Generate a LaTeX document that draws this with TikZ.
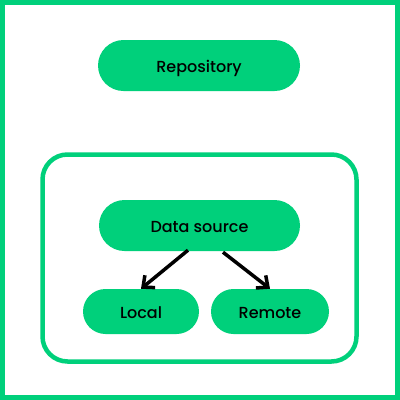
\documentclass[tikz,border=0pt]{standalone}
\usepackage{fontspec}
\setmainfont{Poppins Medium}
\usetikzlibrary{arrows.meta,calc}
\definecolor{gr}{HTML}{00D07B}
\tikzset{
  pill/.style={fill=gr, draw=none, rounded corners=#1, inner sep=0pt, font=\fontsize{16}{18}\selectfont, text=black, text height=16pt, text depth=3pt},
  conn/.style={line width=3.5pt, draw=black, -{Straight Barb[length=9pt,width=16pt,line width=3.5pt]}}
}
\begin{document}
\begin{tikzpicture}[x=1pt,y=-1pt]
\useasboundingbox (0,0) rectangle (400,400);
\draw[gr, line width=5pt] (2.5,2.5) rectangle (397.5,397.5);
\draw[gr, line width=4.5pt, rounded corners=25pt] (42.5,154.5) rectangle (356.5,361.5);
\node[pill=25.5pt, minimum width=202pt, minimum height=51pt] (repo) at (199,65.5) {Repository};
\node[pill=25.5pt, minimum width=201pt, minimum height=51pt] (ds) at (199.5,225.5) {Data source};
\node[pill=22.5pt, minimum width=116pt, minimum height=45pt] (local) at (141,311.5) {Local};
\node[pill=22.5pt, minimum width=118pt, minimum height=45pt] (remote) at (270,311.5) {Remote};
\coordinate (s1) at ($(ds.south)+(-11.5,-1)$);
\coordinate (s2) at ($(ds.south)+(23.5,1)$);
\draw[conn] (s1) -- (local.north);
\draw[conn] (s2) -- (remote.north);
\end{tikzpicture}
\end{document}
